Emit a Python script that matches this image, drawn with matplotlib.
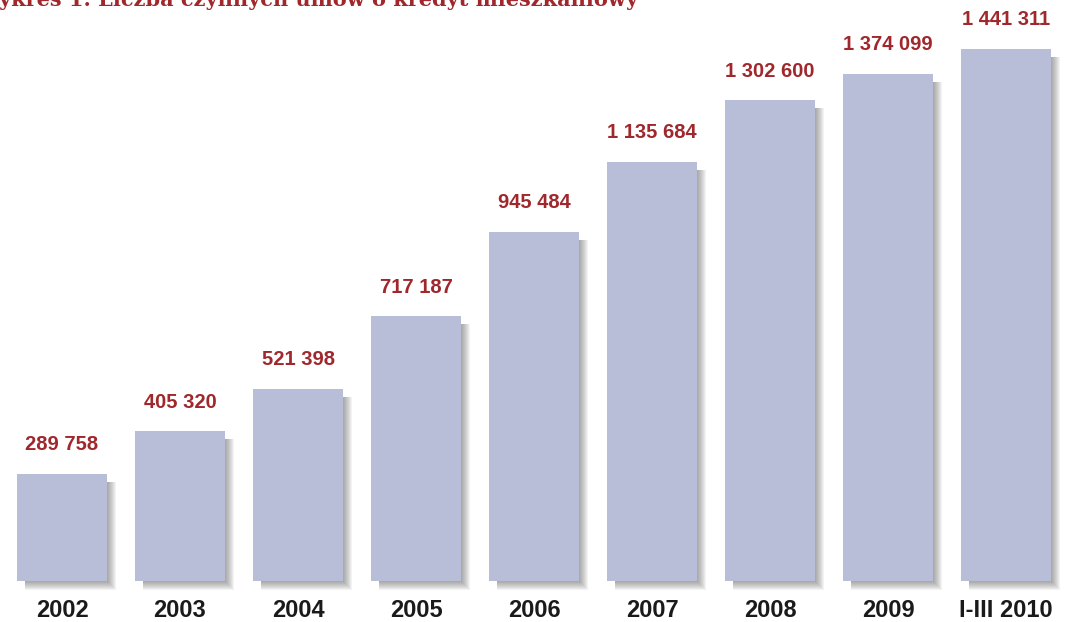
import matplotlib
matplotlib.use("Agg")
import matplotlib.pyplot as plt
from matplotlib.patches import Rectangle
import numpy as np

# liczba czynnych umow o kredyt mieszkaniowy
years = ["2002", "2003", "2004", "2005", "2006", "2007", "2008", "2009", "I-III 2010"]
values = [289758, 405320, 521398, 717187, 945484, 1135684, 1302600, 1374099, 1441311]

bar_color = "#b8bed7"
red = "#a0282c"

W, H = 1065, 622
fig = plt.figure(figsize=(W / 100, H / 100), dpi=100)
fig.patch.set_facecolor("white")

# axes: baseline 41 px from bottom, bar pitch 118 px
base_px = 41
ax = fig.add_axes([0, base_px / H, 1, 1 - base_px / H])
step = 118.0
x0 = 62.0
ax.set_xlim(-x0 / step, (W - x0) / step)
ppu = 532.0 / max(values)  # pixels per unit
ax.set_ylim(0, (H - base_px) / ppu)

bw = 90 / step
xs = np.arange(len(values))

# soft drop shadow towards the lower right
dx = 1 / step
dy = 1 / ppu
for k in range(9):
    for x, v in zip(xs, values):
        left = x - bw / 2 + 8 * dx
        right = x + bw / 2 + (1 + k) * dx
        bottom = -(1 + k) * dy
        top = v - 8 * dy
        ax.add_patch(Rectangle((left, bottom), right - left, top - bottom,
                               facecolor="#3a3a3a", alpha=0.06, lw=0, zorder=1,
                               clip_on=False))

ax.bar(xs, values, width=bw, color=bar_color, zorder=3)

for x, v in zip(xs, values):
    txt = f"{v:,}".replace(",", " ")
    ax.annotate(txt, (x, v), xytext=(0, 17), textcoords="offset points",
                ha="center", va="baseline", color=red, fontsize=14.5,
                fontweight="bold", family="Liberation Sans")

ax.set_xticks(xs)
ax.set_xticklabels(years, fontsize=17, fontweight="bold", color="#1a1a1a",
                   family="Liberation Sans")
ax.tick_params(axis="x", length=0, pad=13)
ax.set_yticks([])
for s in ax.spines.values():
    s.set_visible(False)
ax.patch.set_alpha(0)

fig.text(-24 / W, 1 - 6 / H, "Wykres 1. Liczba czynnych umów o kredyt mieszkaniowy",
         ha="left", va="baseline", color=red, fontsize=15, fontweight="bold",
         family="DejaVu Serif")

fig.savefig("out.png", dpi=100)
